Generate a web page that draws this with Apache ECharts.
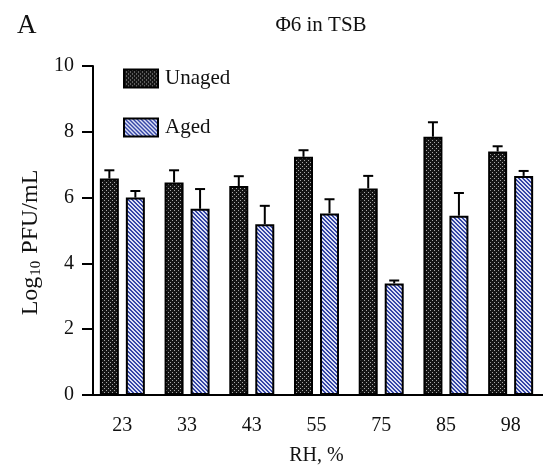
<!DOCTYPE html>
<html>
<head>
<meta charset="utf-8">
<script src="https://cdn.jsdelivr.net/npm/echarts@6/dist/echarts.min.js"></script>
<style>html,body{margin:0;padding:0;background:#fff}#c{width:543px;height:474px}</style>
</head>
<body>
<div id="c"></div>
<script>
// ---- data ----
const categories = ['23', '33', '43', '55', '75', '85', '98'];
const unagedMean = [6.58, 6.46, 6.35, 7.24, 6.28, 7.85, 7.40];
const unagedErr  = [0.25, 0.37, 0.30, 0.20, 0.38, 0.44, 0.16];
const agedMean   = [6.00, 5.66, 5.19, 5.52, 3.39, 5.45, 6.66];
const agedErr    = [0.20, 0.60, 0.56, 0.43, 0.09, 0.69, 0.15];
const yTicks = [0, 2, 4, 6, 8, 10];

// ---- styles ----
const FONT = 'Liberation Serif';
const BAR_W = 19, BAR_GAP = 7;

function makePattern(kind) {
  const c = document.createElement('canvas');
  c.width = 4; c.height = 4;
  const g = c.getContext('2d');
  if (kind === 'dots') {
    g.fillStyle = '#151515'; g.fillRect(0, 0, 4, 4);
    g.fillStyle = '#a8a8a8';
    g.fillRect(0, 0, 1, 1); g.fillRect(2, 2, 1, 1);
  } else {
    for (let y = 0; y < 4; y++) for (let x = 0; x < 4; x++) {
      const m = ((x - y) % 4 + 4) % 4;
      g.fillStyle = (m < 2) ? '#3546a6' : '#dde1f5';
      g.fillRect(x, y, 1, 1);
    }
  }
  return { image: c, repeat: 'repeat' };
}

function errSeries(means, errs, side) {
  const data = means.map((m, i) => [i, m, errs[i]]);
  return {
    type: 'custom',
    z: 5,
    silent: true,
    data: data,
    encode: { x: 0, y: 1 },
    renderItem: function (params, api) {
      const i = api.value(0);
      const base = api.coord([i, api.value(1)]);
      const top = api.coord([i, api.value(1) + api.value(2)]);
      const x = base[0] + side * (BAR_W + BAR_GAP) / 2;
      const cap = 5;
      const st = { stroke: '#000', lineWidth: 2 };
      return {
        type: 'group',
        children: [
          { type: 'line', shape: { x1: x, y1: base[1], x2: x, y2: top[1] }, style: st },
          { type: 'line', shape: { x1: x - cap, y1: top[1], x2: x + cap, y2: top[1] }, style: st }
        ]
      };
    }
  };
}

const chart = echarts.init(document.getElementById('c'));
chart.setOption({
  backgroundColor: '#fff',
  animation: false,
  title: [
    { text: 'A', left: 12, top: 7, textStyle: { fontFamily: FONT, fontSize: 27, fontWeight: 'normal', color: '#111' } },
    { text: 'Φ6 in TSB', left: 316, textAlign: 'center', top: 10, textStyle: { fontFamily: FONT, fontSize: 21, fontWeight: 'normal', color: '#111' } }
  ],
  legend: {
    orient: 'vertical',
    left: 118, top: 63,
    icon: 'rect',
    itemWidth: 34, itemHeight: 18,
    itemGap: 28,
    textStyle: { fontFamily: FONT, fontSize: 21, color: '#111', padding: [0, 0, 0, 2] },
    data: ['Unaged', 'Aged']
  },
  grid: { left: 90, right: -9, top: 66, bottom: 79, containLabel: false },
  xAxis: {
    type: 'category',
    data: categories,
    name: 'RH, %',
    nameLocation: 'middle',
    nameGap: 51,
    nameTextStyle: { fontFamily: FONT, fontSize: 20, color: '#111' },
    axisLine: { lineStyle: { color: '#000', width: 2 } },
    axisTick: { alignWithLabel: true, length: 10, lineStyle: { color: '#000', width: 2 } },
    axisLabel: { fontFamily: FONT, fontSize: 20, color: '#111', margin: 21 }
  },
  yAxis: {
    type: 'value',
    min: yTicks[0], max: yTicks[yTicks.length - 1], interval: 2,
    offset: -3,
    name: '{a|Log}{b|10}{a| PFU/mL}',
    nameLocation: 'middle',
    nameGap: 48,
    nameTextStyle: {
      padding: [0, 24, 0, 0],
      rich: {
        a: { fontFamily: FONT, fontSize: 24, color: '#111' },
        b: { fontFamily: FONT, fontSize: 15, color: '#111', verticalAlign: 'bottom', padding: [8, 1, 0, 1] }
      }
    },
    splitLine: { show: false },
    axisLine: { show: true, lineStyle: { color: '#000', width: 2 } },
    axisTick: { show: true, length: 11, lineStyle: { color: '#000', width: 2 } },
    axisLabel: { fontFamily: FONT, fontSize: 20, color: '#111', margin: 19 }
  },
  series: [
    {
      name: 'Unaged', type: 'bar', data: unagedMean,
      barWidth: BAR_W, barGap: (BAR_GAP / BAR_W * 100) + '%',
      itemStyle: { color: makePattern('dots'), borderColor: '#000', borderWidth: 2 }
    },
    {
      name: 'Aged', type: 'bar', data: agedMean,
      barWidth: BAR_W,
      itemStyle: { color: makePattern('stripes'), borderColor: '#000', borderWidth: 2 }
    },
    errSeries(unagedMean, unagedErr, -1),
    errSeries(agedMean, agedErr, 1)
  ]
});
</script>
</body>
</html>
